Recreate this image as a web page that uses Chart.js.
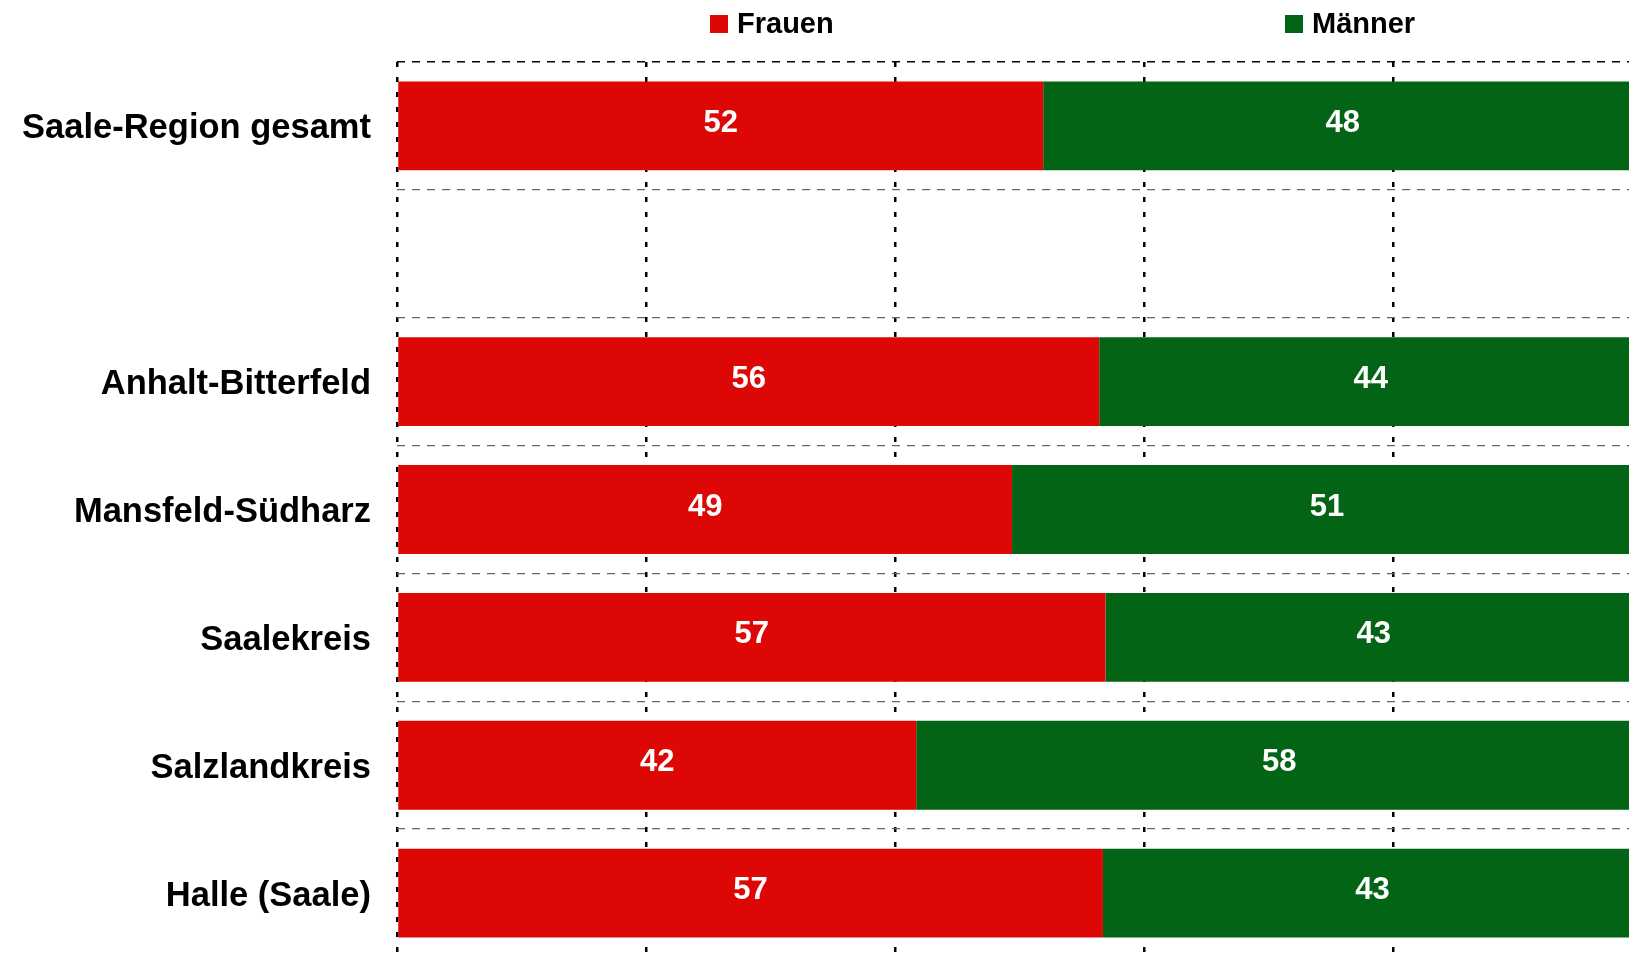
<!DOCTYPE html>
<html>
<head>
<meta charset="utf-8">
<script src="https://cdn.jsdelivr.net/npm/chart.js@4/dist/chart.umd.min.js"></script>
<style>
  html, body { margin: 0; padding: 0; background: #fff; overflow: hidden; }
  canvas { display: block; }
</style>
</head>
<body>
<canvas id="chart" width="1629" height="957"></canvas>
<script>
const categories = ['Saale-Region gesamt', '', 'Anhalt-Bitterfeld', 'Mansfeld-Südharz', 'Saalekreis', 'Salzlandkreis', 'Halle (Saale)'];
const frauen = [51.9, null, 56.4, 49.4, 56.9, 41.7, 56.7];
const maenner = [48.1, null, 43.6, 50.6, 43.1, 58.3, 43.3];
const seriesNames = ['Frauen', 'Männer'];
const xTicksStep = 20;

const RED = '#dd0806';
const GREEN = '#026414';
const FONT = '"Liberation Sans", Arial, Helvetica, sans-serif';

// white value labels centred in each bar segment
const valueLabels = {
    id: 'valueLabels',
    afterDatasetsDraw(chart) {
        const ctx = chart.ctx;
        ctx.save();
        ctx.fillStyle = '#fff';
        ctx.font = 'bold 31px ' + FONT;
        ctx.textAlign = 'center';
        ctx.textBaseline = 'alphabetic';
        chart.data.datasets.forEach((ds, i) => {
            chart.getDatasetMeta(i).data.forEach((bar, j) => {
                const v = ds.data[j];
                if (v == null) return;
                const p = bar.getCenterPoint();
                ctx.fillText(Math.round(v), p.x, p.y + 6);
            });
        });
        ctx.restore();
    }
};

// legend drawn at the top, items spread apart like the original
const topLegend = {
    id: 'topLegend',
    afterDraw(chart) {
        const ctx = chart.ctx;
        const items = [
            { x: 710, color: RED, text: seriesNames[0] },
            { x: 1285, color: GREEN, text: seriesNames[1] }
        ];
        ctx.save();
        ctx.font = 'bold 29px ' + FONT;
        ctx.textBaseline = 'alphabetic';
        ctx.textAlign = 'left';
        items.forEach(it => {
            ctx.fillStyle = it.color;
            ctx.fillRect(it.x, 15, 18, 18);
            ctx.fillStyle = '#000';
            ctx.fillText(it.text, it.x + 27, 33);
        });
        ctx.restore();
    }
};

new Chart(document.getElementById('chart').getContext('2d'), {
    type: 'bar',
    data: {
        labels: categories,
        datasets: [
            { label: seriesNames[0], data: frauen, backgroundColor: RED, borderWidth: 0 },
            { label: seriesNames[1], data: maenner, backgroundColor: GREEN, borderWidth: 0 }
        ]
    },
    options: {
        indexAxis: 'y',
        responsive: false,
        animation: false,
        categoryPercentage: 1,
        barPercentage: 0.695,
        layout: { padding: { top: 62, left: 0, right: 0, bottom: 0 } },
        plugins: {
            legend: { display: false },
            tooltip: { enabled: false }
        },
        scales: {
            x: {
                stacked: true,
                min: 0,
                max: 98.95,
                afterFit: s => { s.height = 0; s.paddingLeft = 0; s.paddingRight = 0; },
                ticks: { display: false, stepSize: xTicksStep, includeBounds: false },
                grid: { color: '#000', lineWidth: 2.5, drawTicks: false },
                border: { display: false, dash: [5, 10] }
            },
            y: {
                stacked: true,
                afterFit: s => { s.width = 397; s.paddingTop = 0; s.paddingBottom = 0; },
                ticks: {
                    color: '#000',
                    padding: 26,
                    labelOffset: 3,
                    font: { family: FONT, size: 34.5, weight: 'bold' }
                },
                grid: {
                    offset: true,
                    drawTicks: false,
                    // bottom edge line (scale context, no tick) is not shown
                    color: c => c.type !== 'tick' ? 'rgba(0,0,0,0)' : (c.index === 0 ? '#000' : '#666'),
                    lineWidth: c => c.index === 0 ? 1.6 : 1.3
                },
                border: { display: false, dash: [8, 7] }
            }
        }
    },
    plugins: [valueLabels, topLegend]
});
</script>
</body>
</html>
